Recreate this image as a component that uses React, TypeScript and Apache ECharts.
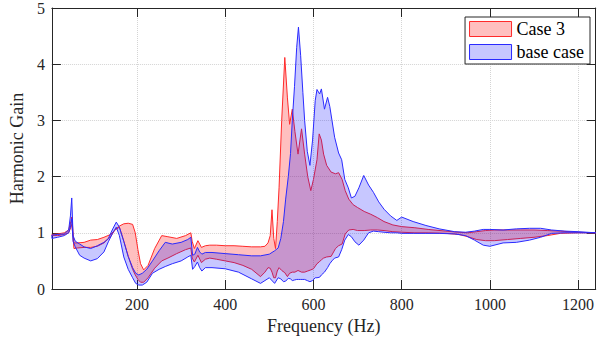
import React, { useEffect, useRef } from "react";
import * as echarts from "echarts";

const xTickValues = [200, 400, 600, 800, 1000, 1200];
const xName = "Frequency (Hz)";
const yName = "Harmonic Gain";
const seriesNames = ["Case 3", "base case"];

const case3Freq = [7, 20, 35, 45, 50, 52, 54, 57, 65, 80, 95, 110, 125, 140, 150, 160, 170, 180, 190, 196, 202, 208, 215, 225, 240, 256, 270, 290, 310, 322, 325, 330, 338, 346, 355, 365, 380, 400, 420, 440, 460, 480, 490, 497, 502, 506, 510, 514, 518, 522, 528, 535, 541, 546, 552, 558, 565, 573, 580, 587, 594, 600, 608, 613, 618, 623, 630, 640, 650, 657, 665, 672, 680, 690, 700, 715, 730, 745, 760, 780, 800, 830, 860, 900, 930, 950, 970, 990, 1010, 1040, 1070, 1100, 1130, 1160, 1200, 1240];
const case3Upper = [0.97, 0.98, 1.0, 1.05, 1.2, 1.28, 1.1, 0.82, 0.82, 0.83, 0.87, 0.88, 0.92, 0.97, 1.05, 1.12, 1.16, 1.17, 1.15, 1.0, 0.7, 0.45, 0.34, 0.42, 0.72, 0.95, 0.93, 0.9, 0.95, 1.0, 0.85, 0.72, 0.86, 0.74, 0.77, 0.78, 0.78, 0.77, 0.77, 0.76, 0.75, 0.75, 0.76, 0.82, 0.95, 1.41, 0.9, 0.72, 1.2, 1.8, 3.0, 4.12, 3.4, 2.93, 3.2, 2.8, 2.4, 2.85, 2.4, 2.0, 1.75, 1.95, 2.3, 2.76, 2.65, 2.4, 2.2, 2.08, 2.05, 2.07, 1.95, 1.75, 1.6, 1.5, 1.45, 1.38, 1.33, 1.27, 1.2, 1.14, 1.11, 1.09, 1.06, 1.03, 1.01, 1.0, 1.02, 1.04, 1.05, 1.05, 1.05, 1.05, 1.04, 1.03, 1.01, 1.0];
const case3Lower = [0.95, 0.95, 0.97, 1.0, 1.1, 1.15, 1.0, 0.72, 0.73, 0.74, 0.74, 0.76, 0.82, 0.93, 1.05, 1.1, 0.85, 0.58, 0.35, 0.25, 0.17, 0.12, 0.12, 0.2, 0.37, 0.5, 0.55, 0.63, 0.7, 0.73, 0.55, 0.48, 0.6, 0.47, 0.53, 0.55, 0.53, 0.5, 0.47, 0.42, 0.35, 0.22, 0.3, 0.38, 0.37, 0.3, 0.2, 0.2, 0.32, 0.38, 0.33, 0.29, 0.22, 0.28, 0.3, 0.3, 0.33, 0.3, 0.3, 0.32, 0.34, 0.36, 0.45, 0.48, 0.52, 0.55, 0.57, 0.58, 0.72, 0.77, 0.8, 0.98, 1.05, 1.06, 1.04, 1.04, 1.05, 1.05, 1.04, 1.02, 1.01, 1.0, 1.0, 0.99, 0.97, 0.93, 0.88, 0.86, 0.86, 0.88, 0.9, 0.92, 0.95, 0.99, 1.0, 1.0];

const baseFreq = [7, 20, 35, 45, 49, 52, 55, 60, 70, 80, 95, 110, 125, 135, 145, 153, 160, 170, 180, 190, 197, 204, 212, 222, 235, 250, 264, 280, 300, 315, 322, 326, 331, 337, 342, 347, 355, 370, 400, 430, 460, 480, 500, 512, 520, 526, 532, 537, 543, 548, 552, 557, 562, 566, 571, 576, 580, 586, 592, 598, 604, 608, 614, 618, 625, 632, 637, 642, 648, 657, 664, 671, 679, 686, 694, 703, 714, 725, 736, 748, 760, 775, 789, 800, 826, 855, 885, 920, 945, 965, 985, 1000, 1030, 1060, 1090, 1115, 1140, 1170, 1200, 1240];
const baseUpper = [0.96, 0.97, 0.98, 1.05, 1.3, 1.62, 0.95, 0.85, 0.8, 0.75, 0.72, 0.77, 0.83, 0.9, 1.07, 1.19, 1.1, 0.85, 0.58, 0.38, 0.28, 0.25, 0.28, 0.35, 0.5, 0.68, 0.83, 0.8, 0.83, 0.88, 0.92, 0.6, 0.62, 0.74, 0.66, 0.62, 0.65, 0.65, 0.63, 0.61, 0.59, 0.59, 0.62, 0.68, 0.73, 0.9, 1.2, 1.6, 2.0, 2.41, 3.0, 3.6, 4.3, 4.66, 4.15, 3.5, 3.0, 2.45, 2.2, 2.65, 3.35, 3.55, 3.47, 3.56, 3.2, 3.41, 3.25, 3.0, 2.7, 2.42, 2.3, 1.95, 1.8, 1.62, 1.65, 1.8, 2.02, 1.85, 1.72, 1.55, 1.42, 1.3, 1.22, 1.28, 1.2, 1.13, 1.07, 1.02, 1.01, 1.03, 1.06, 1.06, 1.05, 1.07, 1.08, 1.08, 1.05, 1.03, 1.02, 1.0];
const baseLower = [0.9, 0.92, 0.95, 1.0, 1.1, 1.25, 0.85, 0.75, 0.6, 0.55, 0.5, 0.54, 0.66, 0.84, 1.0, 1.1, 0.95, 0.57, 0.35, 0.2, 0.1, 0.07, 0.07, 0.12, 0.28, 0.35, 0.4, 0.45, 0.5, 0.57, 0.6, 0.35, 0.4, 0.48, 0.38, 0.32, 0.38, 0.38, 0.36, 0.3, 0.18, 0.1, 0.2, 0.1, 0.2, 0.18, 0.13, 0.14, 0.19, 0.18, 0.15, 0.16, 0.17, 0.17, 0.17, 0.17, 0.17, 0.15, 0.13, 0.15, 0.2, 0.2, 0.21, 0.25, 0.3, 0.38, 0.45, 0.5, 0.55, 0.57, 0.7, 0.87, 0.97, 0.93, 0.84, 0.78, 0.87, 1.0, 1.03, 1.02, 1.01, 1.0, 1.0, 0.99, 0.99, 0.99, 0.99, 0.98, 0.95, 0.87, 0.78, 0.76, 0.82, 0.83, 0.87, 0.92, 0.99, 1.0, 1.0, 1.0];

const FONT = "Liberation Serif";
const AXIS = "#262626";
const RED_FILL = "rgba(255,0,0,0.25)";
const RED_LINE = "#ff2a2a";
const BLUE_FILL = "rgba(0,0,255,0.22)";
const BLUE_LINE = "#2a2aff";

function band(freq: number[], upper: number[], lower: number[], fill: string, stroke: string) {
  return (params: any, api: any) => {
    if (params.dataIndex !== 0) return null;
    const pts: number[][] = [];
    for (let i = 0; i < freq.length; i++) pts.push(api.coord([freq[i], upper[i]]));
    for (let i = freq.length - 1; i >= 0; i--) pts.push(api.coord([freq[i], lower[i]]));
    return {
      type: "polygon",
      shape: { points: pts },
      style: { fill, stroke, lineWidth: 1, lineJoin: "round" },
      silent: true,
    };
  };
}

export default function App() {
  const ref = useRef<HTMLDivElement>(null);
  useEffect(() => {
    if (!ref.current) return;
    const chart = echarts.init(ref.current, null, { renderer: "svg" });
    const xCommon = {
      type: "value",
      min: 7,
      max: 1240,
      axisLine: { show: true, onZero: false, lineStyle: { color: AXIS, width: 1 } },
      axisTick: { show: true, inside: true, length: 9, customValues: xTickValues, lineStyle: { color: AXIS } },
    };
    const yCommon = {
      type: "value",
      min: 0,
      max: 5,
      interval: 1,
      axisLine: { show: true, onZero: false, lineStyle: { color: AXIS, width: 1 } },
      axisTick: { show: true, inside: true, length: 9, lineStyle: { color: AXIS } },
    };
    chart.setOption({
      animation: false,
      backgroundColor: "#fff",
      grid: { left: 49, right: -1, top: 7, bottom: 52, containLabel: false },
      xAxis: [
        {
          ...xCommon,
          position: "bottom",
          name: xName,
          nameLocation: "middle",
          nameGap: 26,
          nameTextStyle: { fontFamily: FONT, fontSize: 18, color: AXIS },
          axisLabel: {
            customValues: xTickValues,
            formatter: (v: number) => String(v),
            fontFamily: FONT,
            fontSize: 16,
            color: AXIS,
            margin: 7,
          },
          splitLine: { show: true, lineStyle: { color: "#d4d4d4", type: "dotted", width: 1 } },
        },
        {
          ...xCommon,
          position: "top",
          axisLabel: { show: false },
          splitLine: { show: false },
        },
      ],
      yAxis: [
        {
          ...yCommon,
          position: "left",
          name: yName,
          nameLocation: "middle",
          nameGap: 22,
          nameTextStyle: { fontFamily: FONT, fontSize: 18, color: AXIS },
          axisLabel: { formatter: (v: number) => String(v), fontFamily: FONT, fontSize: 16, color: AXIS, margin: 7 },
          splitLine: { show: true, lineStyle: { color: "#d4d4d4", type: "dotted", width: 1 } },
        },
        {
          ...yCommon,
          position: "right",
          axisLabel: { show: false },
          splitLine: { show: false },
        },
      ],
      legend: {
        orient: "vertical",
        right: 7,
        top: 17,
        padding: [3, 6, 3, 4],
        itemGap: 5,
        itemWidth: 42,
        itemHeight: 15,
        backgroundColor: "#fff",
        borderColor: AXIS,
        borderWidth: 1,
        borderRadius: 0,
        textStyle: { fontFamily: FONT, fontSize: 18, color: "#000", lineHeight: 18 },
        data: [
          { name: seriesNames[0], icon: "rect", itemStyle: { color: RED_FILL, borderColor: RED_LINE, borderWidth: 1 } },
          { name: seriesNames[1], icon: "rect", itemStyle: { color: BLUE_FILL, borderColor: BLUE_LINE, borderWidth: 1 } },
        ],
      },
      series: [
        {
          name: seriesNames[0],
          type: "custom",
          xAxisIndex: 0,
          yAxisIndex: 0,
          itemStyle: { color: RED_FILL, borderColor: RED_LINE },
          renderItem: band(case3Freq, case3Upper, case3Lower, RED_FILL, RED_LINE),
          data: [[case3Freq[0], case3Lower[0]]],
          z: 2,
        },
        {
          name: seriesNames[1],
          type: "custom",
          xAxisIndex: 0,
          yAxisIndex: 0,
          itemStyle: { color: BLUE_FILL, borderColor: BLUE_LINE },
          renderItem: band(baseFreq, baseUpper, baseLower, BLUE_FILL, BLUE_LINE),
          data: [[baseFreq[0], baseLower[0]]],
          z: 3,
        },
      ],
    });
    return () => chart.dispose();
  }, []);
  return <div ref={ref} style={{ position: "fixed", left: 0, top: 0, width: 597, height: 341 }} />;
}
